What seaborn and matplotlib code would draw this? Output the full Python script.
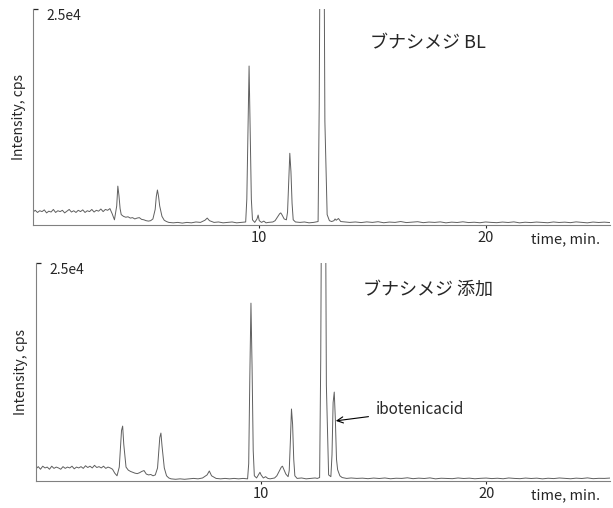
import pandas as pd
import numpy as np
import seaborn as sns
import matplotlib.pyplot as plt

# Cromatogramas leídos a mano de la figura (tiempo en min, intensidad en cps)
time_min = [
    0.0, 0.1, 0.2, 0.3, 0.4, 0.5, 0.6, 0.7, 0.8, 0.9,
    1.0, 1.1, 1.2, 1.3, 1.4, 1.5, 1.6, 1.7, 1.8, 1.9,
    2.0, 2.1, 2.2, 2.3, 2.4, 2.5, 2.6, 2.7, 2.8, 2.9,
    3.0, 3.1, 3.2, 3.3, 3.4, 3.5, 3.6, 3.7, 3.75, 3.8,
    3.85, 3.9, 4.0, 4.1, 4.2, 4.3, 4.4, 4.5, 4.6, 4.7,
    4.8, 4.9, 5.0, 5.1, 5.2, 5.3, 5.4, 5.45, 5.5, 5.55,
    5.6, 5.7, 5.8, 5.9, 6.0, 6.2, 6.4, 6.6, 6.8, 7.0,
    7.2, 7.4, 7.6, 7.7, 7.8, 8.0, 8.2, 8.4, 8.6, 8.8,
    9.0, 9.2, 9.4, 9.45, 9.5, 9.55, 9.6, 9.65, 9.7, 9.8,
    9.9, 9.95, 10.0, 10.1, 10.2, 10.3, 10.4, 10.6, 10.7, 10.8,
    10.9, 10.95, 11.0, 11.1, 11.2, 11.25, 11.3, 11.35, 11.4, 11.45,
    11.5, 11.6, 11.8, 12.0, 12.2, 12.4, 12.5, 12.6, 12.65, 12.7,
    12.75, 12.8, 12.85, 12.9, 13.0, 13.1, 13.15, 13.2, 13.25, 13.3,
    13.35, 13.4, 13.5, 13.6, 13.8, 14.0, 14.25, 14.5, 14.75, 15.0,
    15.25, 15.5, 15.75, 16.0, 16.25, 16.5, 16.75, 17.0, 17.25, 17.5,
    17.75, 18.0, 18.25, 18.5, 18.75, 19.0, 19.25, 19.5, 19.75, 20.0,
    20.25, 20.5, 20.75, 21.0, 21.25, 21.5, 21.75, 22.0, 22.25, 22.5,
    22.75, 23.0, 23.25, 23.5, 23.75, 24.0, 24.25, 24.5, 24.75, 25.0,
    25.25, 25.5,
]

bl_cps = [
    1500, 1700, 1450, 1650, 1550, 1750, 1400, 1600, 1500, 1800,
    1450, 1650, 1550, 1700, 1400, 1600, 1800, 1500, 1650, 1450,
    1700, 1550, 1750, 1450, 1650, 1550, 1800, 1500, 1700, 1600,
    1850, 1550, 1800, 1700, 1900, 1300, 600, 2200, 4500, 3400,
    1900, 1200, 1000, 900, 950, 800, 850, 700, 800, 850,
    650, 600, 500, 450, 500, 700, 1800, 3300, 4050, 3300,
    2200, 1000, 550, 400, 300, 250, 300, 220, 300, 250,
    350, 300, 550, 800, 500, 300, 350, 250, 300, 350,
    250, 300, 350, 3000, 11000, 18400, 11000, 3000, 600, 300,
    700, 1150, 500, 300, 450, 250, 300, 350, 500, 900,
    1300, 1400, 1200, 700, 600, 1500, 5000, 8300, 6200, 2500,
    600, 350, 300, 350, 250, 300, 350, 400, 14000, 40000,
    70000, 70000, 40000, 12000, 1200, 500, 450, 400, 450, 500,
    700, 550, 750, 400, 350, 300, 350, 280, 360, 300,
    380, 260, 340, 300, 400, 280, 330, 380, 270, 340,
    300, 360, 250, 330, 290, 370, 280, 320, 260, 350,
    300, 270, 340, 290, 360, 250, 320, 280, 340, 300,
    260, 350, 290, 330, 270, 360, 300, 250, 340, 290,
    330, 280,
]

spiked_cps = [
    1400, 1650, 1350, 1700, 1500, 1600, 1350, 1700, 1450, 1600,
    1500, 1350, 1650, 1450, 1600, 1500, 1700, 1400, 1600, 1500,
    1650, 1450, 1750, 1550, 1700, 1500, 1800, 1550, 1650, 1500,
    1700, 1450, 1600, 1500, 1350, 900, 600, 1600, 3800, 5800,
    6300, 4200, 1600, 1250, 1100, 1000, 900, 850, 950, 1100,
    1200, 800, 700, 750, 600, 700, 1500, 3200, 5000, 5500,
    4000, 1500, 600, 350, 250, 200, 250, 200, 250, 300,
    250, 350, 700, 1150, 600, 300, 250, 300, 250, 300,
    250, 300, 250, 2000, 12000, 20400, 13000, 3500, 600, 350,
    800, 1000, 700, 350, 500, 300, 250, 350, 600, 1100,
    1600, 1700, 1400, 800, 500, 1200, 4500, 8260, 6500, 2500,
    600, 300, 350, 250, 300, 350, 300, 400, 14000, 40000,
    70000, 70000, 40000, 11000, 700, 500, 3000, 9000, 10200, 7000,
    2500, 1300, 600, 400, 300, 350, 300, 330, 270, 340,
    290, 350, 260, 320, 300, 370, 270, 330, 290, 360,
    250, 320, 300, 270, 350, 290, 330, 260, 310, 340,
    280, 320, 260, 350, 300, 270, 340, 290, 330, 250,
    320, 280, 350, 300, 260, 330, 290, 360, 270, 310,
    300, 340,
]

panel_titles = ['ブナシメジ BL', 'ブナシメジ 添加']
xtick_values = [10, 20]
ytick_values = [25000]
ytick_labels = ['2.5e4']

df = pd.DataFrame({
    'time': time_min * 2,
    'cps': bl_cps + spiked_cps,
    'muestra': [panel_titles[0]] * len(time_min) + [panel_titles[1]] * len(time_min),
})

sns.set_style('ticks')
plt.rcParams['font.family'] = ['Noto Sans CJK JP', 'DejaVu Sans']

fig = plt.figure(figsize=(6.13, 5.08), dpi=100)
ax_top = fig.add_axes([0.0538, 0.5571, 0.9413, 0.4252])
ax_bot = fig.add_axes([0.0587, 0.0531, 0.9364, 0.4291])

# posiciones de titulo y etiqueta y por panel (fracciones del eje)
title_pos = [(0.584, 0.843), (0.570, 0.876)]
ylab_x = [-0.012, -0.014]

for i, ax in enumerate([ax_top, ax_bot]):
    sub = df[df['muestra'] == panel_titles[i]]
    sns.lineplot(data=sub, x='time', y='cps', ax=ax, color='#5f5f5f',
                 linewidth=0.7, estimator=None, sort=False)
    ax.set_xlim(0, 25.5)
    ax.set_ylim(0, 25000)
    sns.despine(ax=ax)
    for s in ['left', 'bottom']:
        ax.spines[s].set_color('#808080')
        ax.spines[s].set_linewidth(0.8)

    ax.set_xticks(xtick_values)
    ax.set_xticklabels([str(v) for v in xtick_values], fontsize=10.5)
    ax.tick_params(axis='x', direction='out', length=2.5, width=0.8, pad=2)

    ax.set_yticks(ytick_values)
    ax.set_yticklabels(ytick_labels, fontsize=10)
    ax.tick_params(axis='y', direction='in', length=3.5, width=0.9, pad=-10)
    plt.setp(ax.get_yticklabels(), ha='left', va='top')

    ax.set_ylabel('Intensity, cps', fontsize=10)
    ax.yaxis.set_label_coords(ylab_x[i], 0.5)
    ax.set_xlabel('time, min.', fontsize=10.5, loc='right')
    ax.xaxis.set_label_coords(0.983, -0.035)

    ax.text(title_pos[i][0], title_pos[i][1], panel_titles[i],
            transform=ax.transAxes, fontsize=13, ha='left', va='center')

ax_bot.annotate('ibotenicacid', xy=(13.32, 6900), xytext=(15.1, 8150),
                fontsize=11, ha='left', va='center',
                arrowprops=dict(arrowstyle='->', color='black', lw=0.8,
                                shrinkA=3, shrinkB=0))

plt.savefig('out.png', dpi=100)
